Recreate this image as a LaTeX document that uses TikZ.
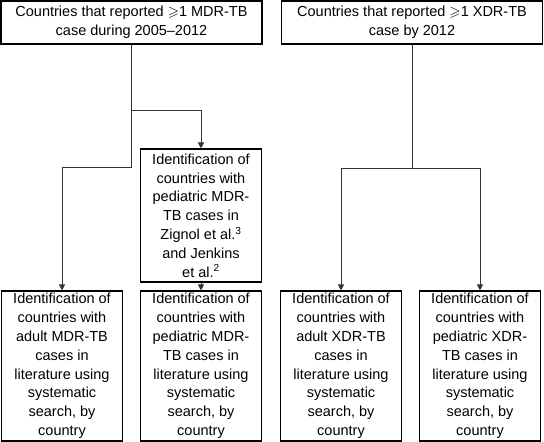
\documentclass[tikz,border=0pt]{standalone}
\usepackage{amssymb}
\usepackage{fontspec}
\setmainfont{Liberation Sans}
\usetikzlibrary{arrows.meta}

\tikzset{
  box/.style={draw=black, line width=1.1pt, align=center, inner sep=1pt,
    font=\fontsize{14.5}{18.8}\selectfont},
  topbox/.style={box, minimum width=261pt, minimum height=43pt},
  tallbox/.style={box, minimum width=121pt, minimum height=150pt},
  link/.style={draw=black!80, line width=0.9pt}
}

\begin{document}
\begin{tikzpicture}[x=1pt, y=1pt, >={Triangle[length=6pt,width=6pt]}]
\useasboundingbox (0,0) rectangle (544,-442);

\node (mdr) at (131.5,-22.5) [topbox]{Countries that reported $\geqslant$1 MDR-TB\\case during 2005--2012};
\node (xdr) at (412,-22.5) [topbox]{Countries that reported $\geqslant$1 XDR-TB\\case by 2012};

\node (ped) at (201,-215.5) [box, minimum width=121pt, minimum height=133pt]{Identification of\\countries with\\pediatric MDR-\\TB cases in\\Zignol et al.\textsuperscript{3}\\and Jenkins\\et al.\textsuperscript{2}};

\node (mdr-a) at (62,-366) [tallbox]{Identification of\\countries with\\adult MDR-TB\\cases in\\literature using\\systematic\\search, by\\country};
\node (mdr-p) at (201,-366) [tallbox]{Identification of\\countries with\\pediatric MDR-\\TB cases in\\literature using\\systematic\\search, by\\country};
\node (xdr-a) at (341,-366) [tallbox]{Identification of\\countries with\\adult XDR-TB\\cases in\\literature using\\systematic\\search, by\\country};
\node (xdr-p) at (480,-366) [tallbox]{Identification of\\countries with\\pediatric XDR-\\TB cases in\\literature using\\systematic\\search, by\\country};

\coordinate (fork-m) at (131.5,-110);
\coordinate (fork-l) at (131.5,-167);
\coordinate (fork-r) at (412,-168);

\draw [link] (mdr.south) -- (fork-l);
\draw [link, ->] (fork-m) -| (ped.north);
\draw [link, ->] (fork-l) -| (mdr-a.north);
\draw [link, ->] (ped.south) -- (mdr-p.north);

\draw [link] (xdr.south) -- (fork-r);
\draw [link, ->] (fork-r) -| (xdr-a.north);
\draw [link, ->] (fork-r) -| (xdr-p.north);

\end{tikzpicture}
\end{document}
